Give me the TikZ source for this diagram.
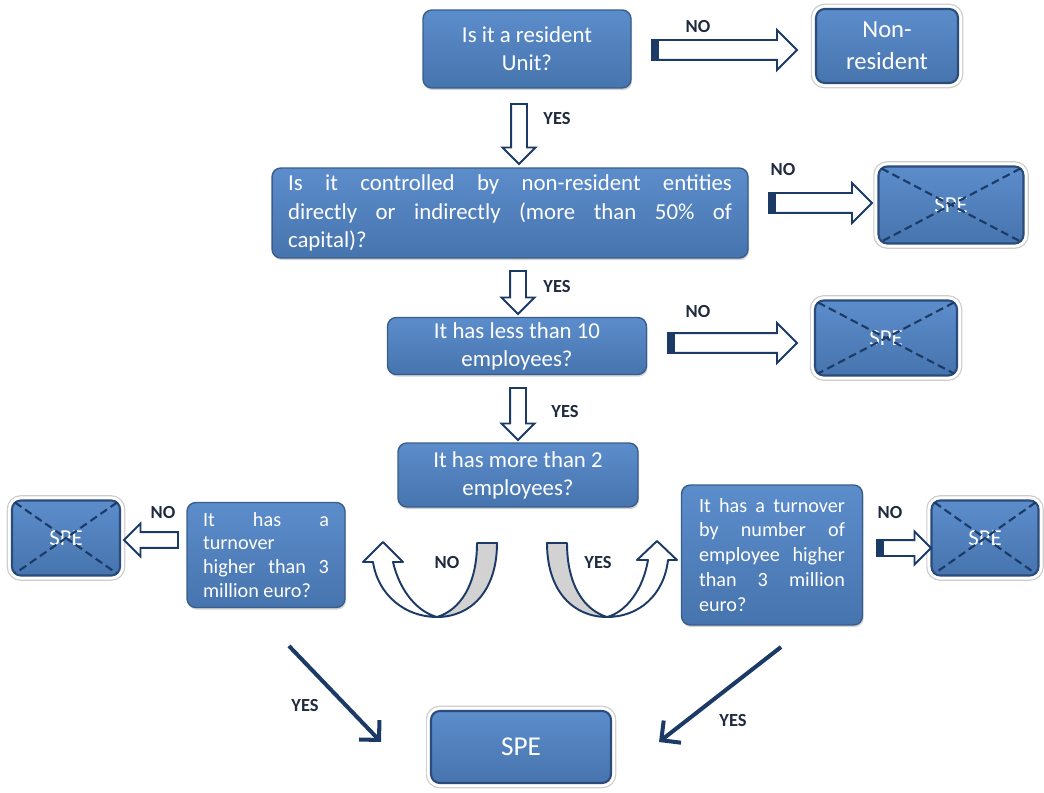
\documentclass[tikz,border=0pt]{standalone}
\usepackage{fontspec}
\setmainfont{Carlito}
\usetikzlibrary{shapes.arrows,shadows,calc,arrows.meta}

\definecolor{boxtop}{HTML}{5C8DCB}
\definecolor{boxbot}{HTML}{4674AE}
\definecolor{boxline}{HTML}{385D8A}
\definecolor{endline}{HTML}{2B4C7A}
\definecolor{navy}{HTML}{1B3A66}
\definecolor{lbltext}{HTML}{1F2A3F}

\tikzset{
  question/.style={rectangle, rounded corners=5pt, draw=boxline, line width=0.8pt,
    top color=boxtop, bottom color=boxbot, text=white, inner sep=0pt, align=center,
    font=\fontsize{13}{16}\selectfont,
    drop shadow={shadow xshift=0.6pt, shadow yshift=-1.2pt, opacity=0.35}},
  answer/.style={rectangle, rounded corners=5pt, draw=endline, line width=1.2pt,
    top color=boxtop, bottom color=boxbot, text=white, inner sep=0pt, align=center,
    font=\fontsize{13}{15}\selectfont,
    preaction={draw=gray!40, line width=6pt},
    preaction={draw=white, line width=4.6pt}},
  bigarrow/.style={single arrow, draw=navy, fill=white, line width=1.1pt,
    inner xsep=0pt, inner ysep=0.18cm, minimum width=0.76cm,
    single arrow head extend=0.2cm, single arrow tip angle=90},
  smallarrow/.style={bigarrow, inner ysep=0.14cm, minimum width=0.62cm,
    single arrow head extend=0.17cm},
  lbl/.style={text=lbltext, font=\bfseries\fontsize{10.5}{12}\selectfont},
  cross/.style={navy, line width=1.2pt, dash pattern=on 4.5pt off 2.5pt},
  uturn/.style={draw=navy, line width=1.1pt, line join=round},
  yesarrow/.style={navy, line width=2.3pt, -{Straight Barb[length=8pt,width=16pt]}}
}

\begin{document}
\begin{tikzpicture}[x=0.02cm, y=-0.02cm]
  \useasboundingbox (0,0) rectangle (1044,793);

  % Questions
  \node[question, minimum width=4.16cm, minimum height=1.56cm] (q1) at (527,49)
    {Is it a resident\\Unit?};
  \node[question, text width=8.88cm, inner xsep=0.32cm, minimum height=1.8cm, align=justify] (q2) at (510,213)
    {Is it controlled by non-resident entities\linebreak directly or indirectly (more than 50\% of\linebreak capital)?};
  \node[question, minimum width=5.18cm, minimum height=1.14cm] (q3) at (517,346)
    {It has less than 10\\employees?};
  \node[question, minimum width=4.8cm, minimum height=1.28cm] (q4) at (518,475)
    {It has more than 2\\employees?};
  \node[question, text width=2.52cm, inner xsep=0.32cm, minimum height=2.1cm, align=justify,
    font=\fontsize{11.5}{13.6}\selectfont] (q5) at (266,555)
    {It has a\linebreak turnover\linebreak higher than 3\linebreak million euro?};
  \node[question, text width=2.92cm, inner xsep=0.35cm, minimum height=2.8cm, align=justify,
    font=\fontsize{11.5}{14.2}\selectfont] (q6) at (772,555)
    {It has a turnover\linebreak by number of\linebreak employee higher\linebreak than 3 million\linebreak euro?};

  % Answers
  \node[answer, minimum width=2.84cm, minimum height=1.48cm, font=\fontsize{14}{18}\selectfont] (nonres) at (887,46) {Non-\\resident};
  \node[answer, minimum width=2.9cm, minimum height=1.54cm] (spe1) at (951,205) {SPE};
  \node[answer, minimum width=2.84cm, minimum height=1.5cm] (spe2) at (886,338) {SPE};
  \node[answer, minimum width=2.16cm, minimum height=1.5cm] (spe3) at (66,538) {SPE};
  \node[answer, minimum width=2.14cm, minimum height=1.5cm] (spe4) at (985,538) {SPE};
  \node[answer, minimum width=3.6cm, minimum height=1.44cm, font=\fontsize{15.5}{18}\selectfont] (spe) at (521,747) {SPE};

  % Crossed out
  \foreach \n in {spe1,spe2,spe3,spe4}
    \draw[cross] ($(\n.north west)+(4,3)$) -- ($(\n.south east)+(-4,-3)$)
                 ($(\n.north east)+(-4,3)$) -- ($(\n.south west)+(4,-3)$);

  % Block arrows
  \node[bigarrow, minimum height=2.9cm] (a1) at (719.5,50) {};
  \node[bigarrow, minimum height=2.06cm] (a3) at (815.5,203) {};
  \node[bigarrow, minimum height=2.58cm] (a5) at (727.5,343) {};
  \node[smallarrow, minimum height=1.08cm, rotate=180] (a7) at (155,540) {};
  \node[smallarrow, minimum height=1.08cm] (a8) at (900,548) {};
  \node[smallarrow, minimum height=1.2cm, rotate=-90] (a2) at (519,130) {};
  \node[smallarrow, minimum height=0.86cm, rotate=-90] (a4) at (518,288.5) {};
  \node[smallarrow, minimum height=1.04cm, rotate=-90] (a6) at (518,410) {};
  \foreach \a in {a1,a3,a5,a8}
    \fill[navy] (\a.before tail) rectangle ($(\a.after tail)+(8,0)$);

  % U-turn arrows
  \draw[uturn, fill=gray!35] (477,543) -- (497,543) .. controls (497,592) and (470,617) .. (437,617)
    .. controls (460,610) and (477,585) .. (477,543) -- cycle;
  \draw[uturn, fill=white] (437,617) .. controls (405,617) and (378,595) .. (373,562) -- (363,562)
    -- (383,542) -- (403,562) -- (393,562) .. controls (400,592) and (418,612) .. (437,617) -- cycle;
  \draw[uturn, fill=gray!35] (567,543) -- (547,543) .. controls (547,592) and (574,617) .. (607,617)
    .. controls (584,610) and (567,585) .. (567,543) -- cycle;
  \draw[uturn, fill=white] (607,617) .. controls (639,617) and (664,595) .. (668,560) -- (677,560)
    -- (657,541) -- (637,560) -- (648,560) .. controls (643,590) and (626,612) .. (607,617) -- cycle;

  % Diagonal arrows
  \coordinate (d1) at (289,646);
  \coordinate (d2) at (381,742);
  \coordinate (d3) at (781,647);
  \coordinate (d4) at (659,742);
  \draw[yesarrow] (d1) -- (d2);
  \draw[yesarrow] (d3) -- (d4);

  % Labels
  \node[lbl] (no1) at (698,27) {NO};
  \node[lbl] (no2) at (783,170) {NO};
  \node[lbl] (no3) at (698,312) {NO};
  \node[lbl] (no4) at (163,513) {NO};
  \node[lbl] (no5) at (890,513) {NO};
  \node[lbl] (no6) at (447,563) {NO};
  \node[lbl] (yes1) at (557,119) {YES};
  \node[lbl] (yes2) at (557,287) {YES};
  \node[lbl] (yes3) at (565,412) {YES};
  \node[lbl] (yes4) at (598,563) {YES};
  \node[lbl] (yes5) at (305,706) {YES};
  \node[lbl] (yes6) at (733,721) {YES};
\end{tikzpicture}
\end{document}
